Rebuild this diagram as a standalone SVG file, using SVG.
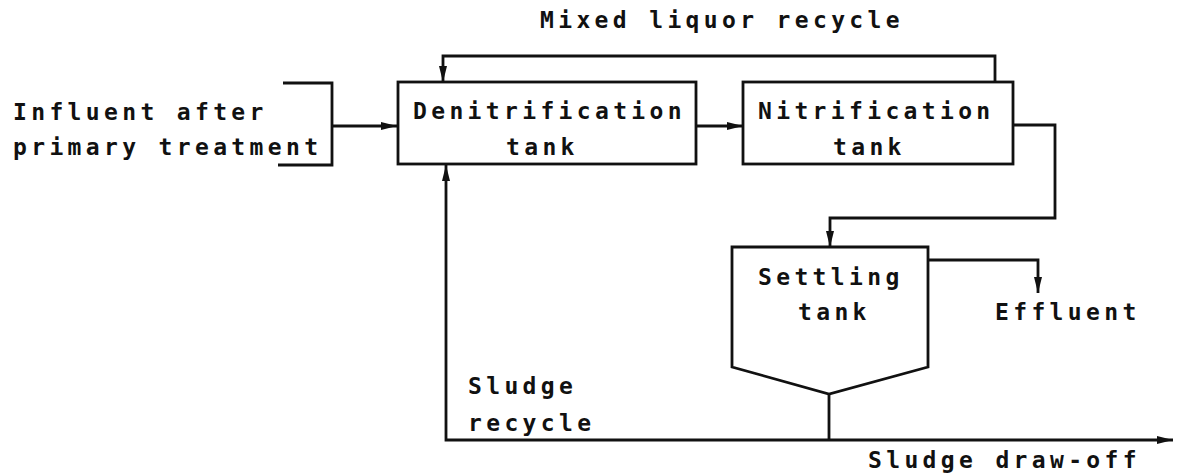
<svg xmlns="http://www.w3.org/2000/svg" width="1185" height="475" viewBox="0 0 1185 475">
<style>
text{font-family:"DejaVu Sans Mono","Liberation Mono",monospace;font-weight:bold;font-size:23px;letter-spacing:4.35px;fill:#111}
.ln{fill:none;stroke:#111;stroke-width:2.8;stroke-linejoin:miter}
.arr{marker-end:url(#ah)}
</style>
<defs>
<marker id="ah" markerUnits="userSpaceOnUse" viewBox="0 0 16 8" markerWidth="16" markerHeight="8" refX="16" refY="4" orient="auto">
<path d="M0,0 L16,4 L0,8 z" fill="#111"/>
</marker>
</defs>
<rect width="1185" height="475" fill="#fff"/>
<g id="influent">
<path class="ln" d="M283,83 H332 V165 H278"/>
<text x="13" y="120">Influent after</text>
<text x="13" y="155">primary treatment</text>
</g>
<g id="denitrification">
<rect class="ln" x="398" y="82" width="298" height="82"/>
<text x="413" y="119">Denitrification</text>
<text x="506" y="155">tank</text>
</g>
<g id="nitrification">
<rect class="ln" x="743" y="82" width="270" height="82"/>
<text x="758" y="119">Nitrification</text>
<text x="833" y="155">tank</text>
</g>
<g id="settling">
<path class="ln" d="M732,247 H928 V367 L829,394 L732,367 Z"/>
<text x="758" y="285">Settling</text>
<text x="798" y="320">tank</text>
</g>
<g id="connectors">
<path class="ln arr" d="M332,126 H397"/>
<path class="ln arr" d="M995,82 V56 H443 V82"/>
<path class="ln arr" d="M696,126 H743"/>
<path class="ln arr" d="M1013,125 H1055 V218 H830 V247"/>
<path class="ln arr" d="M928,260 H1038 V293"/>
<path class="ln" d="M829,394 V440"/>
<path class="ln arr" d="M830,440 H446 V165"/>
<path class="ln arr" d="M830,440 H1173"/>
</g>
<g id="labels">
<text x="540" y="28">Mixed liquor recycle</text>
<text x="995" y="320">Effluent</text>
<text x="468" y="394">Sludge</text>
<text x="468" y="431">recycle</text>
<text x="868" y="468">Sludge draw-off</text>
</g>
</svg>
